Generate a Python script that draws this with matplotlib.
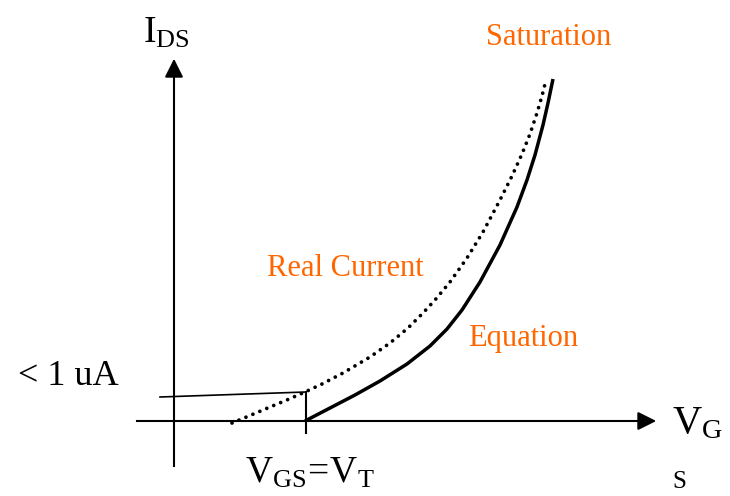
import matplotlib.pyplot as plt
import numpy as np

plt.rcParams['font.family'] = ['Liberation Serif', 'DejaVu Serif']
plt.rcParams['mathtext.fontset'] = 'custom'
plt.rcParams['mathtext.rm'] = 'Liberation Serif'
plt.rcParams['mathtext.it'] = 'Liberation Serif:italic'

# curves (pixel coordinates, y down)
eq_x = [305, 330, 355, 380, 407, 430, 447, 462, 480, 500, 517, 527, 535, 543, 548, 553]
eq_y = [421, 408, 395, 381, 364, 346, 329, 310, 282, 245, 207, 180, 155, 125, 103, 79]
real_x = [232, 250, 270, 288, 305, 322, 343, 370, 390, 408, 423, 435, 450, 467,
          483, 500, 512, 522, 530, 537, 542, 546]
real_y = [423, 415.5, 407, 399.5, 392, 384, 373, 357, 343, 328, 313, 300, 282, 258,
          232, 200, 176, 154, 134, 113, 96, 80]

labels = ['Saturation', 'Real Current', 'Equation']
orange = '#FF6600'

fig = plt.figure(figsize=(7.30, 4.96), dpi=100)
ax = fig.add_axes([0, 0, 1, 1])
ax.set_xlim(0, 730)
ax.set_ylim(496, 0)
ax.axis('off')

# axes
ax.plot([174, 174], [466, 70], color='k', lw=1.5)
ax.annotate('', xy=(174, 56), xytext=(174, 80),
            arrowprops=dict(arrowstyle='-|>', lw=1.5, color='k', mutation_scale=28))
ax.plot([137, 645], [421, 421], color='k', lw=1.5)
ax.annotate('', xy=(659, 421), xytext=(635, 421),
            arrowprops=dict(arrowstyle='-|>', lw=1.5, color='k', mutation_scale=28))

# threshold tick and < 1 uA pointer
ax.plot([306, 306], [392, 433], color='k', lw=1.5)
ax.plot([160, 306], [397, 392], color='k', lw=1.2)

# curves
ax.plot(eq_x, eq_y, color='k', lw=2.5, solid_capstyle='butt', solid_joinstyle='round')
ax.plot(real_x, real_y, color='k', lw=2.7, linestyle=(0, (0.01, 2.0)),
        dash_capstyle='round')

# text
ax.text(143, 43, r'$\mathrm{I_{DS}}$', fontsize=27, ha='left', va='baseline')
ax.text(672, 433, r'$\mathrm{V_{G}}$', fontsize=29, ha='left', va='baseline')
ax.text(672, 488, 'S', fontsize=18, ha='left', va='baseline')
ax.text(245, 483, r'$\mathrm{V_{GS}}\!=\!\mathrm{V_T}$', fontsize=27,
        ha='left', va='baseline')
ax.text(18, 385, '< 1 uA', fontsize=26, ha='left', va='baseline')
ax.text(486, 45, labels[0], fontsize=22, color=orange, ha='left', va='baseline')
ax.text(267, 276, labels[1], fontsize=22, color=orange, ha='left', va='baseline')
ax.text(468, 346, labels[2], fontsize=22, color=orange, ha='left', va='baseline')

plt.savefig('out.png', dpi=100)
